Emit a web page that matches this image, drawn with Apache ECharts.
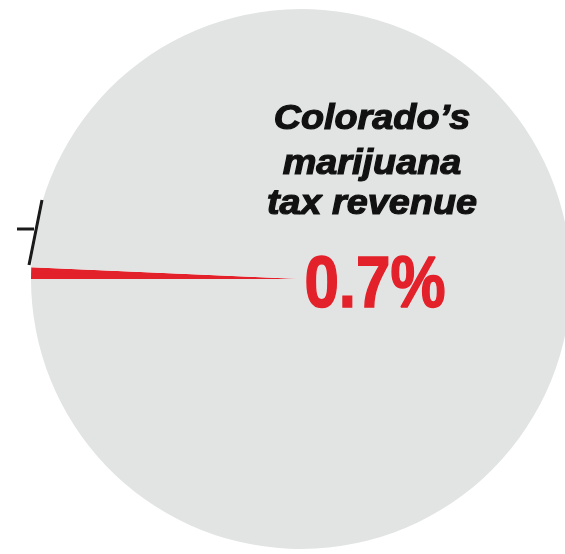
<!DOCTYPE html>
<html>
<head>
<meta charset="utf-8">
<script src="https://cdn.jsdelivr.net/npm/echarts@6/dist/echarts.min.js"></script>
<style>
  html, body { margin: 0; padding: 0; background: #ffffff; }
  #chart { width: 565px; height: 554px; }
</style>
</head>
<body>
<div id="chart"></div>
<script>
// Share of state budget, in percent
const sliceNames = ['Marijuana tax revenue', 'Everything else'];
const sliceValues = [0.7, 99.3];
const sliceColors = ['#e3212a', '#e2e4e4'];
const headingLines = ['Colorado\u2019s', 'marijuana', 'tax revenue'];

const chart = echarts.init(document.getElementById('chart'), null, { renderer: 'canvas' });

const pieData = sliceNames.map((name, i) => ({
  name: name,
  value: sliceValues[i],
  itemStyle: { color: sliceColors[i] }
}));

const headingFont = 'italic bold 35px "Liberation Sans", Arial, sans-serif';
const headingY = [119, 164, 204];

chart.setOption({
  animation: false,
  backgroundColor: '#ffffff',
  series: [{
    type: 'pie',
    silent: true,
    z: 1,
    center: [301, 279],
    radius: 270,
    startAngle: 180,
    clockwise: true,
    minAngle: 0,
    label: { show: false },
    labelLine: { show: false },
    itemStyle: { borderWidth: 0 },
    data: pieData
  }],
  graphic: [
    // leader stub on the left rim
    {
      type: 'polyline',
      silent: true,
      z: 10,
      shape: { points: [[17, 229], [34, 229]] },
      style: { stroke: '#1a1a1a', lineWidth: 3, fill: null }
    },
    {
      type: 'polyline',
      silent: true,
      z: 10,
      shape: { points: [[42, 200], [29, 265]] },
      style: { stroke: '#1a1a1a', lineWidth: 3, fill: null }
    },
    ...headingLines.map((line, i) => ({
      type: 'text',
      silent: true,
      z: 10,
      x: 372,
      y: headingY[i],
      scaleX: 1.08,
      style: {
        text: line,
        font: headingFont,
        fill: '#111111',
        stroke: '#111111',
        lineWidth: 1.2,
        textAlign: 'center',
        textVerticalAlign: 'middle'
      }
    })),
    {
      type: 'text',
      silent: true,
      z: 10,
      x: 375,
      y: 287,
      scaleX: 0.86,
      style: {
        text: sliceValues[0] + '%',
        font: 'bold 72px "Liberation Sans", Arial, sans-serif',
        fill: sliceColors[0],
        stroke: sliceColors[0],
        lineWidth: 1.5,
        textAlign: 'center',
        textVerticalAlign: 'middle'
      }
    }
  ]
});
</script>
</body>
</html>
